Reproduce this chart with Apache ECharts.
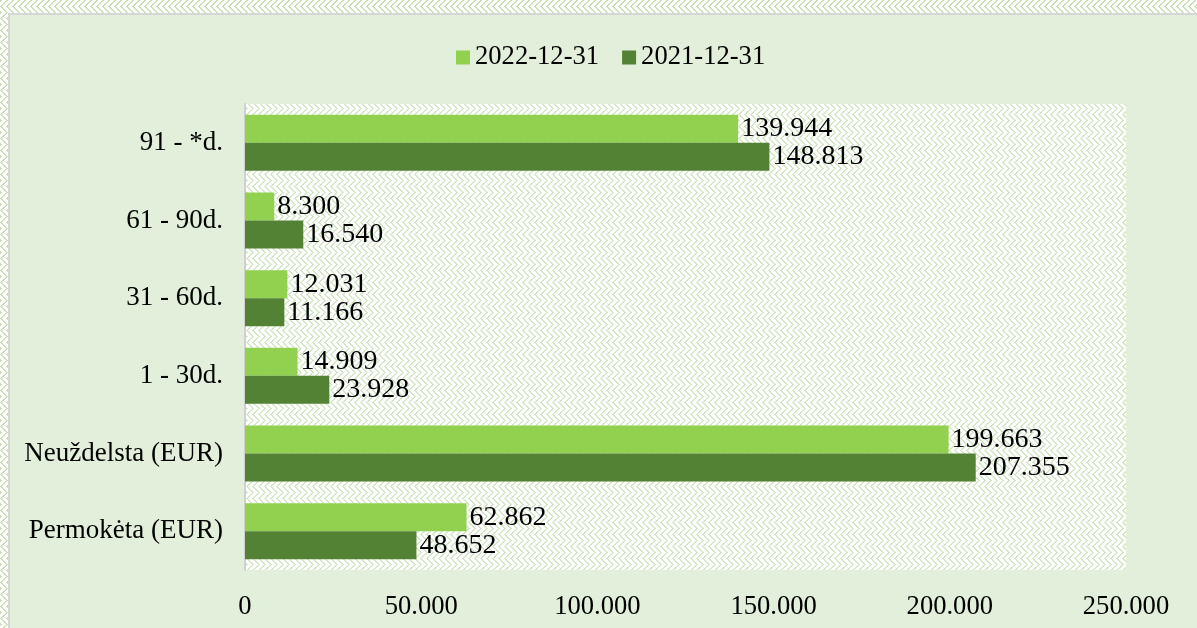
<!DOCTYPE html>
<html>
<head>
<meta charset="utf-8">
<script src="https://cdn.jsdelivr.net/npm/echarts@6/dist/echarts.min.js"></script>
<style>
  html, body { margin: 0; padding: 0; }
  #chart { width: 1197px; height: 628px; }
</style>
</head>
<body>
<div id="chart"></div>
<script>
const categories = ["Permokėta (EUR)", "Neuždelsta (EUR)", "1 - 30d.", "31 - 60d.", "61 - 90d.", "91 - *d."];
const values2022 = [62862, 199663, 14909, 12031, 8300, 139944];
const values2021 = [48652, 207355, 23928, 11166, 16540, 148813];
const seriesNames = ["2022-12-31", "2021-12-31"];

const FONT = "'Liberation Serif', 'DejaVu Serif', serif";

// small woven tile used as a fill pattern
function makeTile(bg, fg) {
  const c = document.createElement("canvas");
  c.width = 12;
  c.height = 12;
  const ctx = c.getContext("2d");
  ctx.fillStyle = bg;
  ctx.fillRect(0, 0, 12, 12);
  ctx.fillStyle = fg;
  for (let y = 0; y < 12; y++) {
    for (let x = 0; x < 12; x++) {
      const a = (x + y) % 6;
      const b = (x - y + 12) % 6;
      const upper = y < 6;
      if ((upper && a < 2) || (!upper && b < 2)) {
        ctx.fillRect(x, y, 1, 1);
      }
    }
  }
  return c;
}

const plotTile = makeTile("#ffffff", "#d3e8c5");
const outerTile = makeTile("#ffffff", "#c8e2b6");

function fmt(v) {
  return String(v).replace(/\B(?=(\d{3})+(?!\d))/g, ".");
}

const chart = echarts.init(document.getElementById("chart"));
chart.setOption({
  animation: false,
  backgroundColor: "#ffffff",
  graphic: [
    {
      type: "rect",
      z: -100,
      shape: { x: 0, y: 0, width: 1197, height: 628 },
      style: { fill: { image: outerTile, repeat: "repeat" } },
      silent: true
    },
    {
      type: "rect",
      z: -99,
      shape: { x: 9, y: 14, width: 1200, height: 640 },
      style: { fill: "#e2efda", stroke: "#d6d6d6", lineWidth: 2 },
      silent: true
    }
  ],
  legend: {
    data: seriesNames,
    left: 451,
    top: 39,
    itemWidth: 14,
    itemHeight: 14,
    itemGap: 23,
    icon: "rect",
    textStyle: { fontFamily: FONT, fontSize: 26.6, color: "#000" }
  },
  grid: {
    left: 245,
    top: 104,
    right: 71,
    bottom: 58,
    show: true,
    borderWidth: 0,
    backgroundColor: { image: plotTile, repeat: "repeat" }
  },
  xAxis: {
    type: "value",
    min: 0,
    max: 250000,
    interval: 50000,
    axisLine: { show: false },
    axisTick: { show: false },
    splitLine: { show: false },
    axisLabel: {
      margin: 24,
      fontFamily: FONT,
      fontSize: 26.6,
      color: "#000",
      formatter: function (v) { return fmt(v); }
    }
  },
  yAxis: {
    type: "category",
    data: categories,
    axisLine: { show: true, lineStyle: { color: "#d0d0d0", width: 2 } },
    axisTick: { show: false },
    axisLabel: {
      margin: 22,
      fontFamily: FONT,
      fontSize: 27,
      color: "#000"
    }
  },
  series: [
    {
      name: seriesNames[0],
      type: "bar",
      data: values2022,
      barWidth: 28,
      barGap: "0%",
      itemStyle: { color: "#92d050" },
      label: {
        show: true,
        position: "right",
        distance: 3,
        fontFamily: FONT,
        fontSize: 28,
        color: "#000",
        formatter: function (p) { return fmt(p.value); }
      }
    },
    {
      name: seriesNames[1],
      type: "bar",
      data: values2021,
      barWidth: 28,
      barGap: "0%",
      itemStyle: { color: "#548235" },
      label: {
        show: true,
        position: "right",
        distance: 3,
        fontFamily: FONT,
        fontSize: 28,
        color: "#000",
        formatter: function (p) { return fmt(p.value); }
      }
    }
  ]
});
</script>
</body>
</html>
